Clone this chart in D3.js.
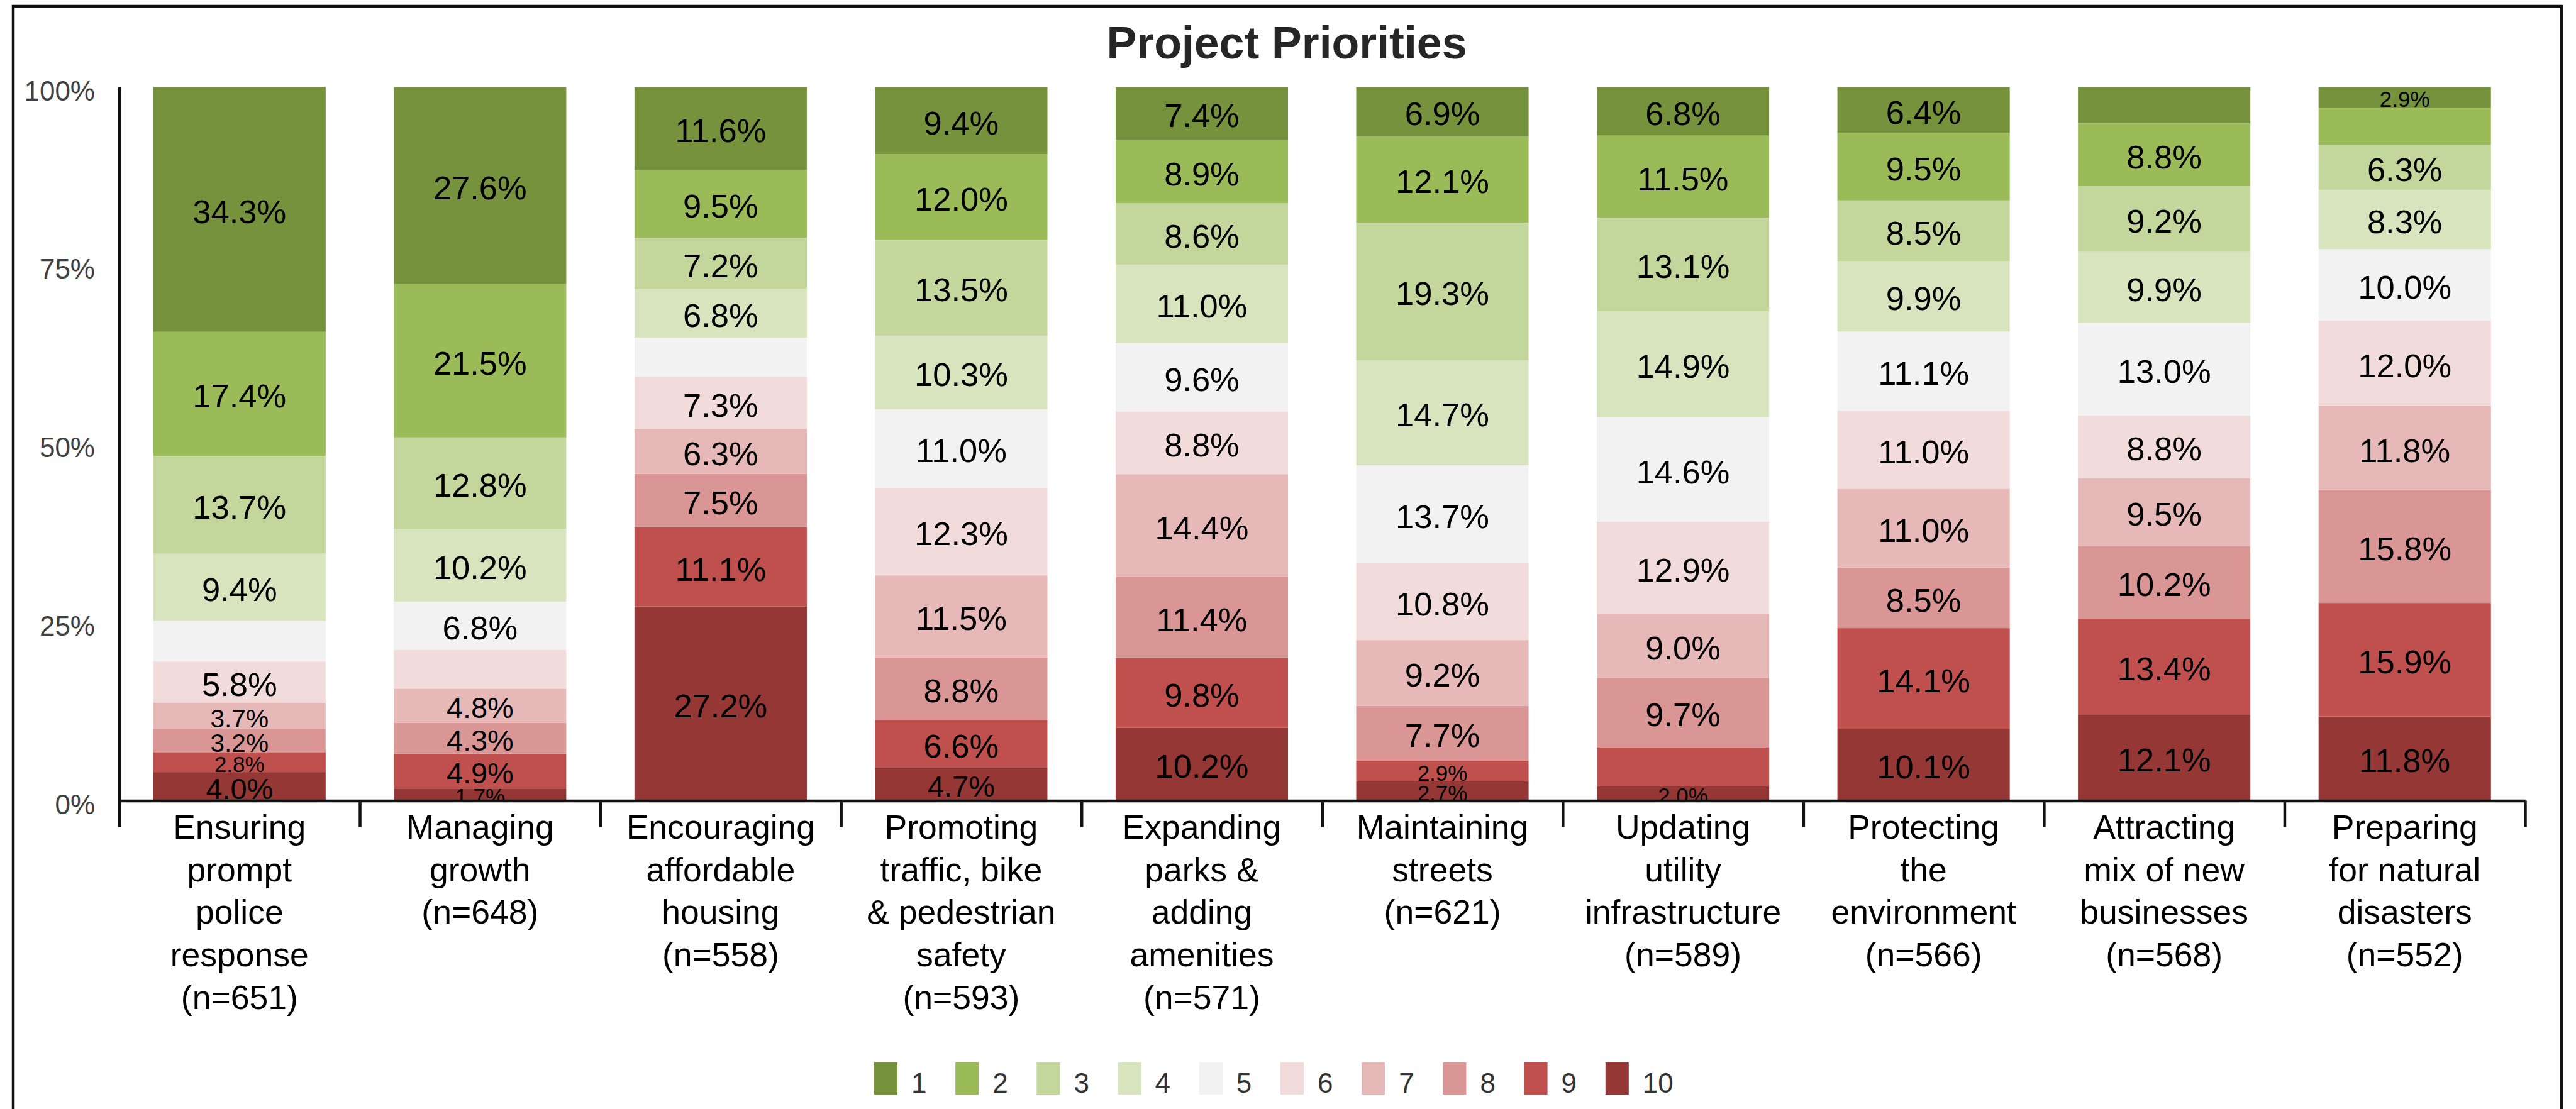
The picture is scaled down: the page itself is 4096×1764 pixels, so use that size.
<!DOCTYPE html>
<html><head><meta charset="utf-8">
<script src="https://cdn.jsdelivr.net/npm/d3@7"></script>
<style>html,body{margin:0;padding:0;background:#fff;overflow:hidden}</style>
</head><body>
<svg id="chart" width="4096" height="1764"></svg>
<script>
// ---------- data ----------
const categories = [
  "Ensuring\nprompt\npolice\nresponse",
  "Managing\ngrowth",
  "Encouraging\naffordable\nhousing",
  "Promoting\ntraffic, bike\n& pedestrian\nsafety",
  "Expanding\nparks &\nadding\namenities",
  "Maintaining\nstreets",
  "Updating\nutility\ninfrastructure",
  "Protecting\nthe\nenvironment",
  "Attracting\nmix of new\nbusinesses",
  "Preparing\nfor natural\ndisasters"
];
const sampleSizes = [651, 648, 558, 593, 571, 621, 589, 566, 568, 552];
const ranks = ["1","2","3","4","5","6","7","8","9","10"];
const rank1  = [34.3, 27.6, 11.6,  9.4,  7.4,  6.9,  6.8,  6.4,  5.1,  2.9];
const rank2  = [17.4, 21.5,  9.5, 12.0,  8.9, 12.1, 11.5,  9.5,  8.8,  5.2];
const rank3  = [13.7, 12.8,  7.2, 13.5,  8.6, 19.3, 13.1,  8.5,  9.2,  6.3];
const rank4  = [ 9.4, 10.2,  6.8, 10.3, 11.0, 14.7, 14.9,  9.9,  9.9,  8.3];
const rank5  = [ 5.7,  6.8,  5.5, 11.0,  9.6, 13.7, 14.6, 11.1, 13.0, 10.0];
const rank6  = [ 5.8,  5.4,  7.3, 12.3,  8.8, 10.8, 12.9, 11.0,  8.8, 12.0];
const rank7  = [ 3.7,  4.8,  6.3, 11.5, 14.4,  9.2,  9.0, 11.0,  9.5, 11.8];
const rank8  = [ 3.2,  4.3,  7.5,  8.8, 11.4,  7.7,  9.7,  8.5, 10.2, 15.8];
const rank9  = [ 2.8,  4.9, 11.1,  6.6,  9.8,  2.9,  5.5, 14.1, 13.4, 15.9];
const rank10 = [ 4.0,  1.7, 27.2,  4.7, 10.2,  2.7,  2.0, 10.1, 12.1, 11.8];
const series = [rank1, rank2, rank3, rank4, rank5, rank6, rank7, rank8, rank9, rank10];
// rank whose data label is not shown in each bar (null = all shown)
const unlabeledRank = [5, 6, 5, null, null, null, 9, null, 1, 2];
const yTicks = [0, 0.25, 0.5, 0.75, 1];
const yTickLabels = ["0%", "25%", "50%", "75%", "100%"];
const rankColors = ["#76923C","#9BBB59","#C3D69B","#D7E4BD","#F2F2F2",
                    "#F2DCDB","#E6B9B8","#D99694","#C0504D","#953735"];
const titleText = "Project Priorities";

// ---------- layout ----------
const W = 4096, H = 1764;
const FONT = "'Liberation Sans', Arial, Helvetica, sans-serif";
const svg = d3.select("#chart");
svg.append("rect").attr("width", W).attr("height", H).attr("fill", "#fff");

// outer frame
svg.append("rect")
  .attr("x", 21).attr("y", 10).attr("width", 4052).attr("height", H + 20)
  .attr("fill", "none").attr("stroke", "#111").attr("stroke-width", 4.5);

const x = d3.scaleBand().domain(d3.range(categories.length))
  .range([189.5, 4015]).paddingInner(0.2835).paddingOuter(0.14175);
const xb = d3.scaleLinear().domain([0, categories.length]).range(x.range());
const y = d3.scaleLinear().domain([0, 1]).range([1273.5, 138.5]);
const color = d3.scaleOrdinal().domain(ranks).range(rankColors);
const labelSize = d3.scaleThreshold().domain([3, 4, 5]).range([35, 40.6, 46.8, 52.5]);

const table = categories.map((c, i) => {
  const o = { i };
  ranks.forEach((r, k) => o[r] = series[k][i]);
  return o;
});
const stacked = d3.stack().keys(ranks.slice().reverse()).offset(d3.stackOffsetExpand)(table);

// bars
const layers = svg.append("g").selectAll("g").data(stacked).join("g")
  .attr("fill", d => color(d.key));
layers.selectAll("rect").data(d => d).join("rect")
  .attr("x", d => x(d.data.i))
  .attr("width", x.bandwidth())
  .attr("y", d => y(d[1]))
  .attr("height", d => y(d[0]) - y(d[1]));

// clip for labels
svg.append("clipPath").attr("id", "plotclip").append("rect")
  .attr("x", 0).attr("y", 0).attr("width", W).attr("height", y(0));

const lab = svg.append("g").attr("clip-path", "url(#plotclip)")
  .attr("font-family", FONT).attr("fill", "#000").attr("text-anchor", "middle");
stacked.forEach(layer => {
  const key = layer.key;
  layer.forEach(d => {
    const i = d.data.i;
    if (unlabeledRank[i] === +key) return;
    const v = d.data[key];
    const fs = labelSize(v);
    lab.append("text")
      .attr("x", x(i) + x.bandwidth() / 2)
      .attr("y", (y(d[0]) + y(d[1])) / 2 + 0.358 * fs + 3)
      .attr("font-size", fs)
      .text(v.toFixed(1) + "%");
  });
});

// x axis with boundary ticks
const xAxis = svg.append("g").attr("transform", `translate(0,${y(0)})`)
  .call(d3.axisBottom(xb).tickValues(d3.range(categories.length + 1))
    .tickSize(42).tickSizeOuter(0).tickFormat(""));
xAxis.selectAll("path,line").attr("stroke", "#111").attr("stroke-width", 4.5);

// y axis
const yAxis = svg.append("g").attr("transform", `translate(${x.range()[0]},0)`)
  .call(d3.axisLeft(y).tickValues(yTicks).tickSize(0).tickSizeOuter(0)
    .tickPadding(38.5).tickFormat((d, i) => yTickLabels[i]));
yAxis.select(".domain").attr("stroke", "#111").attr("stroke-width", 4.5);
yAxis.selectAll("text").attr("font-family", FONT).attr("font-size", 44)
  .attr("fill", "#404040").attr("dy", "0.47em");

// category labels
const cat = svg.append("g").attr("font-family", FONT).attr("font-size", 53.5)
  .attr("fill", "#000").attr("text-anchor", "middle");
categories.forEach((c, i) => {
  const lines = c.split("\n").concat([`(n=${sampleSizes[i]})`]);
  const t = cat.append("text");
  lines.forEach((ln, k) => {
    t.append("tspan").attr("x", x(i) + x.bandwidth() / 2)
      .attr("y", 1334 + k * 67.7).text(ln);
  });
});

// title
svg.append("text").attr("x", 2046).attr("y", 93)
  .attr("text-anchor", "middle").attr("font-family", FONT)
  .attr("font-weight", "bold").attr("font-size", 71.6).attr("fill", "#262626")
  .text(titleText);

// legend
const lx = d3.scaleLinear().domain([0, ranks.length - 1]).range([1390, 1390 + 9 * 129.2]);
const leg = svg.append("g");
ranks.forEach((r, k) => {
  leg.append("rect").attr("x", lx(k)).attr("y", 1690).attr("width", 37).attr("height", 51)
    .attr("fill", color(r));
  leg.append("text").attr("x", lx(k) + 59).attr("y", 1738)
    .attr("font-family", FONT).attr("font-size", 44).attr("fill", "#333").text(r);
});
</script>
</body></html>
